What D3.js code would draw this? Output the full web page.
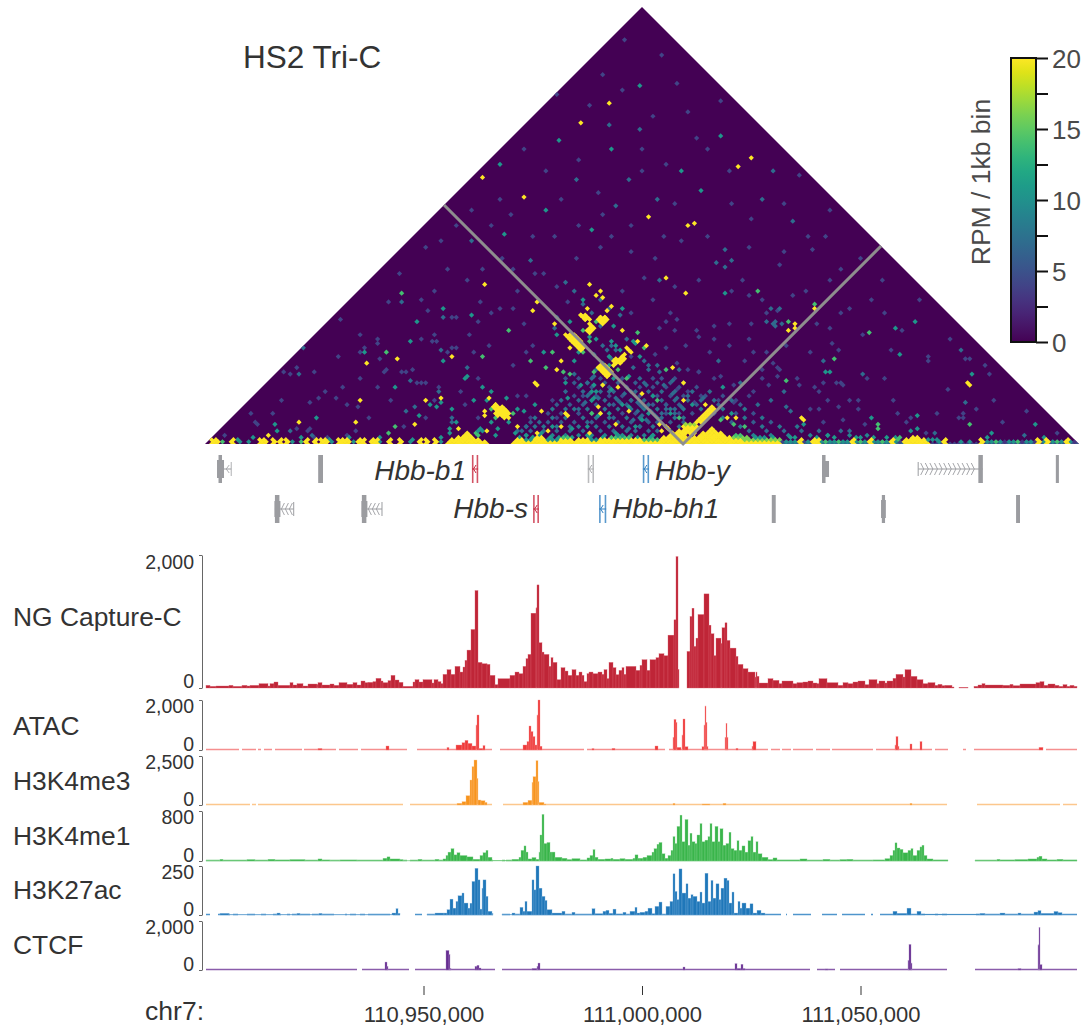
<!DOCTYPE html>
<html>
<head>
<meta charset="utf-8">
<script src="https://cdn.jsdelivr.net/npm/d3@7"></script>
<style>
  body { margin: 0; background: #fff; }
  text { font-family: "Liberation Sans", Arial, sans-serif; fill: #333; }
</style>
</head>
<body>
<div id="my_dataviz"></div>
<script>
// genomic window, chr7
const regionStart = 110900000;
const regionEnd = 111100000;
const axisTicks = [110950000, 111000000, 111050000];

// Tri-C contacts: [midpoint in 0.5kb steps, separation in kb]
const hotContacts = [179,68,181,70,182,67,176,73,175,62,184,61,186,63,172,59,174,57,176,55,181,58,182,57,181,56,183,58,175,52,177,54,176,51,
  167,48,169,46,171,44,168,47,170,47,173,44,172,43,187,36,189,38,191,40,188,37,193,44,195,42,194,43,198,47,202,45,180,35,182,33,184,31,181,34,183,32,183,34,185,32,
  151,28,152,27,133,18,135,16,137,14,139,12,134,15,136,15,137,16,138,15,136,13,165,14,166,13,128,73,152,65,150,61,160,55,165,50,167,44,190,52,220,69,211,76,
  113,40,161,34,163,38,214,35,219,28,189,26,182,27,200,23,101,20,108,21,96,9,130,21,128,15,128,13,129,6,116,7,143,8,154,15,152,5,162,8,157,6,
  180,17,181,14,188,9,194,15,176,5,208,9,229,18,239,12,243,12,219,20,270,55,267,52,88,39,74,37,71,20,43,10,69,10,29,4,279,62,270,53,349,28,350,27,272,12,273,11,
  184,156,172,147,249,131,243,127,127,122,145,113,202,104,220,100,223,101,210,8,212,7,209,6];
const greenContacts = [90,69,127,40,139,52,198,51,156,35,149,38,167,32,159,42,211,34,177,14,84,5,87,8,83,42,253,70,267,56,279,64,303,51,288,39,266,29,350,9,308,9,308,7,318,3,317,2,
  235,11,186,36,172,52,178,56,163,33,200,44,206,20,216,12,241,9,246,8,192,30,184,35,131,16,141,14,133,12,188,34,178,33,173,42,176,47];
const tealContacts = [155,42,177,27,238,69,109,62,122,59,97,56,94,47,73,42,109,38,120,31,119,30,87,26,127,26,131,24,103,18,108,19,106,17,123,20,113,16,98,13,51,12,32,9,33,6,115,10,112,7,112,5,133,4,
  325,56,316,53,317,41,351,32,284,33,286,33,274,9,305,12,326,13,323,6,326,7,360,5,380,9,
  160,50,171,42,175,49,186,47,189,43,196,46,164,28,172,27,178,24,186,25,193,31,205,22,212,14,222,18,240,14,176,20,166,21,190,18,236,26,151,18,145,15,199,11,
  199,164,162,139,134,128,186,135,217,125,227,116,236,141,176,98,137,96,156,107,
  177,24,177,21,181,27,187,30,185,36,184,40,188,45,199,11,196,8,202,14,184,14,174,8,193,17,179,13,167,7,158,8,153,5,147,4,141,5,133,7,138,10,
  129,20,137,21,131,10,143,16,187,54,172,66,166,56,190,62,178,48,195,47,199,40,168,38,
  150,3,162,3,175,4,188,5,204,4,15,2,22,3,44,3,56,2,66,3,80,3,94,2,108,3,268,3,284,4,300,3,316,3,358,3,384,3];
const blueContacts = [45,44,90,65,109,58,108,43,94,29,107,24,92,15,96,17,113,12,39,6,113,10,120,35,43,32,49,4,295,6,345,43,333,5,374,4,347,19,300,32,282,38,265,24,265,17,267,15,
  168,70,164,74,172,64,180,66,185,62,190,59,180,54,176,60,161,58,159,53,170,45,178,41,182,45,185,39,193,48,201,38,196,35,208,33,214,29,221,22,227,21,169,32,176,30,180,21,174,22,
  197,24,203,18,208,14,214,16,198,15,186,12,174,10,166,8,152,10,146,8,142,6,184,18,200,28,217,34,234,38,245,28,252,18,258,20,261,54,259,55,263,55,261,56,258,62,262,62,257,56,
  208,75,234,83,238,89,240,84,237,81,254,112,268,102,199,144,169,121,149,84,121,93,188,109,206,112,259,125,185,146,194,121,
  184,43,186,45,188,43,185,40,181,37,179,34,177,31,174,28,178,27,176,23,179,21,174,19,171,16,184,24,187,21,190,19,191,23,194,20,197,19,200,17,203,15,199,13,196,11,193,7,199,8,202,11,205,13,208,12,211,16,214,14,217,17,205,22,202,27,199,30,203,34,207,36,202,36,210,27,213,23,216,21];
const dimContacts = [62,57,84,65,113,58,115,58,125,56,101,61,134,62,105,50,99,48,104,47,106,47,78,48,78,46,72,44,71,42,111,42,113,44,115,44,123,42,80,39,82,34,81,33,90,33,92,33,95,34,42,35,36,33,39,32,50,33,
  98,28,101,28,97,28,71,30,79,26,63,26,107,26,105,20,60,21,52,21,48,19,65,18,70,17,22,10,23,9,21,14,41,7,48,7,47,6,68,6,91,8,9,4,50,3,65,4,56,3,
  286,53,314,43,347,39,349,39,331,38,357,36,359,32,303,30,290,43,286,46,288,28,290,28,292,27,282,28,278,26,272,27,352,16,346,14,347,12,345,12,295,20,299,20,285,20,314,20,276,16,281,16,290,17,299,16,283,10,292,11,301,9,317,14,320,10,323,12,365,10,389,5,
  221,152,172,176,208,178,192,185,181,169,236,157,259,144,272,123,286,107,298,105,135,112,121,107,108,93,126,80,98,66,162,112,181,105,217,93,249,103,277,89,291,80,304,66,318,52,341,48,327,66,254,66,
  205,66,213,60,224,52,232,48,240,45,247,38,255,30,262,35,270,30,277,42,280,24,243,20,233,30,226,33,215,25,211,18,150,45,145,55,140,62,143,70,130,60,120,75,110,80,100,90,135,85,150,95,170,85,180,90,195,88,210,95,
  225,75,245,75,262,82,275,70,295,62,310,75,330,40,290,60,268,68,250,55,239,55,220,45,214,52,206,41,195,60,190,70,200,76,160,72,155,78,140,36,146,42,120,50,117,24,124,30,147,22,158,20,170,14,160,12,
  220,24,223,19,226,22,234,20,242,19,248,22,251,24,257,27,261,31,242,27,235,31,226,33,216,37,220,34,232,54,226,49,216,57,210,56,207,53,257,42,254,34,263,34,260,37,248,48,249,68,257,60,262,61,
  160,160,175,155,190,162,205,150,215,165,230,135,170,130,155,125,145,135,200,125,180,115,215,110,240,110,265,110,230,95,160,95,115,100,130,100,195,100,248,90,283,95,300,85,240,70,285,75,
  195,40,210,44,230,42,250,42,265,45,280,55,300,50,310,60,130,45,125,65,140,80,105,70,88,78,70,50,60,40,148,12,142,22,125,12,118,18,100,12,85,20,75,12,55,24,35,20,30,14,340,25,335,14,360,20,375,15,330,5,310,30,
  170,175,200,135,225,140,210,128,240,125,185,95,170,100,205,85,265,88,275,95,140,105,150,78,165,65,215,72];

// blue cloud under the viewpoint, by row: [separation, value, midpoints...]
const cloudRows = [
  [30,5,165,171,181,191,205,209,215],
  [28,6,168,175,183,189,197,207,213,219],
  [26,5,170,177,185,193,199,205,211,217,225],
  [24,7,165,173,181,187,195,203,209,215,222,230],
  [22,5,168,172,178,184,190,198,206,212,218,228,236],
  [20,7,163,170,176,182,188,194,200,208,214,220,226,232,240],
  [18,6,160,166,172,178,186,192,198,204,210,216,224,234,244],
  [16,8,158,164,168,174,182,188,194,200,206,212,218,226,236,246],
  [14,5,156,162,170,176,180,190,196,204,210,216,222,232,242,250],
  [12,8,150,158,164,172,178,184,192,198,206,214,218,236,246,254],
  [10,6,148,156,162,168,176,182,188,194,202,206,212,218,240,250,258],
  [8,8,146,150,154,160,170,178,184,190,198,204,216,244,254,262,270],
  [6,7,145,149,155,161,167,173,181,187,193,197,203,207,213,248,256,264,272,280,290],
  [4,9,147,153,159,165,171,177,183,189,195,201,205,250,258,266,276,284,294,302],
  [3,11,143,149,157,167,175,181,197,203,252,260,270,280,288,298,306,312]
];

// solid runs, yellow blobs and the rows next to the diagonal: [separation, first midpoint, last midpoint, value]
const bandRuns = [[0,111,129,20],[1,112,128,20],[2,113,125,20],[3,115,123,20],[4,118,122,20],[4,124,126,14],[5,119,121,20],[5,123,125,14],[6,125,127,10],[7,117,117,10],[7,125,127,10],
  [0,141,263,20],[1,142,262,20],[2,143,145,20],[2,151,155,20],[2,163,167,20],[2,171,175,20],[2,181,199,20],[2,147,149,10],[2,157,161,10],[2,177,179,10],[2,201,207,14],[3,152,154,20],[3,164,166,14],[3,186,194,14],[4,188,192,10],
  [2,209,245,20],[3,210,222,20],[3,224,240,20],[4,212,220,20],[4,226,238,20],[5,214,224,20],[5,228,236,20],[6,216,224,20],[6,230,234,20],[7,219,224,20],[7,232,232,20],[8,219,225,20],[9,220,225,17],
  [2,247,263,16],[3,242,248,16],[4,242,246,14],[3,252,256,10],
  [0,265,319,7],[1,264,318,4],[0,321,331,20],[1,320,330,20],[2,321,329,20],[3,324,326,20],[2,331,335,10],[0,333,353,4],[0,355,400,5],[1,356,398,3],
  [18,133,133,20],[17,132,136,20],[16,132,138,20],[15,133,139,20],[14,133,139,20],[13,134,138,20],[12,136,138,20],
  [36,180,183,20],[35,180,184,20],[34,181,185,20],[33,181,186,20],[32,182,186,20],[31,183,185,20],
  [50,166,169,20],[49,166,170,20],[48,167,171,20],[47,167,172,20],[46,168,172,20],[45,170,173,20],[44,171,173,20],
  [41,191,193,20],[40,190,192,20],[39,188,192,20],[38,187,191,20],[37,187,190,20],
  [59,172,175,20],[58,173,176,20],[57,174,176,20],[58,180,183,20],[57,180,184,20],[56,180,184,20],[55,181,183,20],[53,175,178,20],[52,175,178,20],[51,175,177,20],
  [10,224,227,20],[11,225,228,20],[12,226,229,20],[13,227,230,20],[14,228,231,20],[15,229,232,20],[16,230,233,20],[17,231,233,20]];
const baseHot = [3,5,12,25,27,31,34,37,46,50,53,55,61,63,65,70,72,76,78,84,89,98,101,105,272,278,280,296,304,314,338,355,381,385,394];
const baseGreen = [8,43,284,290,300,310,362,372,390];
const baseTeal = [15,20,40,58,68,80,94,108,266,268,270,275,282,286,288,292,294,298,302,306,308,312,316,335,345,350,358,360,364,368,370,376,378,383,388,392,396];

// the two gray guide lines start from the viewpoint, in kb from region start
const viewpointKb = 109.4;

// colorbar
const colorTicks = [0, 2.5, 5, 7.5, 10, 12.5, 15, 17.5, 20];

// gene track, kb from region start
const geneRow = [0,0,0,0,0,0,0,0, 1,1,1,1,1,1,1];
const geneStart = [2.75,25.9,61.1,87.6,100.2,141.2,163.2,194.7, 16,35.9,75.1,90.2,129.7,154.7,185.6];
const geneEnd = [6,27,62.5,89,101.6,142.8,178,195.4, 20.3,40.5,76.4,91.8,130.6,155.8,186.5];
const geneColor = ["#9b9ca0","#9b9ca0","#c8283f","#a9aaad","#2f7fc1","#9b9ca0","#9b9ca0","#9b9ca0","#9b9ca0","#9b9ca0","#c8283f","#2f7fc1","#9b9ca0","#9b9ca0","#9b9ca0"];
const geneType = ["left","bar","pair","pair","pair","step","long","bar","chev","chev","pair","pair","bar","mid","bar"];

// signal tracks: [bin, value from that bin on], 1 bin = 229bp
const captureBins = [1,5,11,24,28,37,42,45,54,63,65,69,73,85,88,92,98,103,112,113,117,125,129,134,142,148,152,156,160,163,168,171,176,178,183,186,190,194,198,208,210,214,218,227,229,233,236,238,242,246,250,255,258,260,262,266,270,273,277,282,285,290,293,305,310,314,318,321,323,326,331,332,334,337,339,344,346,348,352,356,360,363,367,371,374,377,379,382,384,388,393,397,399,402,404,408,411,414,417,419,421,431,435,437,442,445,451,454,459,463,469,471,473,474,482,485,487,489,491,493,499,504,506,509,511,516,517,520,522,525,531,533,538,543,550,551,552,554,563,568,574,577,588,592,598,603,608,612,614,622,633,638,643,648,653,660,664,672,674,680,682,688,691,698,700,706,712,718,723,730,733,737,740,747,749,754,763,769,773,777,780,798,805,808,815,831,835,839,843,850,854,858,862,865,869,872];
const captureValues = [40,25,30,40,25,40,30,40,65,30,65,90,40,80,45,65,30,60,50,80,45,60,40,80,55,80,45,105,80,85,95,145,105,80,110,190,120,85,25,90,125,90,125,75,125,95,65,205,275,205,325,240,315,415,570,880,1465,385,365,355,190,50,140,190,240,215,325,440,505,1125,1205,1550,680,540,505,325,455,385,125,305,255,190,275,190,240,190,95,215,240,215,240,205,275,140,385,305,200,265,305,205,325,265,340,425,265,425,455,515,485,795,1025,1975,275,0,550,1075,1200,625,750,1105,1415,945,815,485,750,665,905,980,715,600,475,355,290,240,165,240,175,75,140,115,65,105,65,80,90,105,75,65,140,80,40,80,65,90,105,50,125,65,105,75,105,145,205,165,275,175,125,65,80,40,55,35,40,15,0,10,0,25,45,65,45,40,55,35,60,80,95,40,60,40,25,50,25,40,25,0];
const atacSteps = [[113,60],[117,0],[181,160],[184,0],[242,100],[244,0],[251,200],[257,290],[260,385],[263,265],[267,160],[271,1000],[272,1400],[274,60],[278,175],[280,0],[318,200],[322,335],[324,960],[326,735],[328,535],[330,200],[332,1400],[333,2000],[335,150],[337,0],[387,55],[389,0],[407,65],[410,0],
  [450,160],[453,0],[468,500],[469,1220],[471,1100],[472,105],[476,0],[477,600],[478,1240],[480,130],[483,0],[497,130],[499,1000],[500,1760],[501,1100],[502,130],[503,0],[520,500],[521,1065],[522,500],[523,0],[531,65],[533,0],[547,150],[548,335],[551,0],[690,200],[691,535],[693,150],[694,0],[705,240],[707,0],[715,335],[717,0],[834,105],[838,0]];
const me3Steps = [[252,85],[257,170],[261,475],[265,1275],[267,1955],[269,2295],[272,1360],[273,255],[276,220],[280,135],[282,0],[318,135],[323,240],[327,1155],[328,1445],[331,2260],[333,1190],[334,135],[339,50],[341,0],[468,85],[470,0],[497,50],[505,0],[518,85],[521,0],[705,85],[707,0]];
const me1Steps = [[1,5],[15,27],[18,11],[42,22],[50,11],[63,27],[70,16],[85,22],[100,11],[113,33],[117,16],[125,5],[135,16],[152,11],[178,44],[182,66],[185,33],[195,22],[198,5],[205,11],[213,27],[217,11],[230,27],[234,11],[238,33],[241,88],[243,142],[246,197],[249,98],[252,132],[255,88],[262,66],[268,27],[275,88],[278,132],[281,170],[283,60],[287,11],
  [297,11],[307,27],[314,60],[316,170],[319,241],[321,143],[323,33],[327,55],[331,27],[334,143],[335,416],[337,745],[339,279],[342,296],[345,143],[347,143],[350,60],[357,44],[362,22],[367,38],[375,16],[382,49],[385,88],[388,181],[390,60],[393,27],[400,33],[406,44],[408,27],[415,38],[420,27],[428,44],[430,98],[433,44],
  [435,44],[438,60],[442,88],[447,142],[449,197],[452,268],[454,296],[457,115],[460,44],[463,88],[466,170],[468,389],[470,279],[472,553],[475,734],[477,307],[480,663],[483,252],[485,444],[487,307],[490,279],[492,416],[495,597],[497,307],[500,334],[503,389],[505,597],[507,307],[510,553],[513,307],[515,515],[518,252],[521,279],[524,460],[526,197],[529,170],[532,323],[534,170],[537,241],[540,142],[543,323],[546,389],[548,142],[551,307],[553,115],[557,60],[563,22],[568,49],[572,16],[595,33],[602,11],[618,27],[625,11],[635,22],[642,27],[648,11],[668,16],[680,38],[685,88],[688,170],[690,290],[692,208],[695,186],[698,131],[703,170],[706,197],[708,88],[712,170],[715,225],[717,252],[719,88],[722,33],[728,16],[743,0],
  [770,11],[792,27],[795,16],[810,22],[823,33],[832,60],[834,77],[837,33],[842,16],[852,27],[858,16],[872,0]];
const k27Steps = [[15,8],[24,3],[72,10],[75,3],[92,8],[95,3],[114,8],[117,3],[187,10],[191,32],[193,8],[195,0],[222,3],[230,10],[239,10],[242,27],[245,81],[248,35],[251,69],[253,98],[257,112],[259,61],[263,35],[265,60],[267,171],[270,238],[273,179],[275,30],[277,137],[278,179],[281,95],[283,19],[287,7],[288,0],[297,3],[307,10],[310,3],[315,39],[318,19],[320,69],[322,19],[327,179],[329,128],[331,250],[334,137],[337,95],[340,74],[342,27],[347,10],[357,19],[360,3],[367,14],[370,3],[387,32],[390,6],[398,19],[401,24],[404,8],[408,30],[411,5],[418,14],[421,3],[425,19],[430,39],[432,10],
  [435,14],[440,19],[443,35],[447,6],[450,44],[454,66],[457,3],[461,44],[465,69],[468,210],[470,120],[472,78],[474,235],[477,112],[481,159],[483,86],[486,103],[488,95],[492,69],[495,117],[497,61],[500,213],[503,69],[506,176],[508,86],[511,159],[514,78],[516,137],[519,188],[522,176],[524,61],[527,117],[529,10],[533,69],[535,35],[537,61],[541,35],[545,57],[548,10],[552,24],[556,10],[560,0],
  [688,19],[692,8],[702,35],[706,0],[712,19],[716,5],[775,8],[780,4],[795,10],[800,4],[813,10],[816,4],[829,15],[833,22],[836,8],[849,18],[853,12],[857,5]];
const ctcfSteps = [[180,324],[182,148],[183,0],[241,796],[244,620],[245,67],[246,0],[270,148],[272,189],[274,81],[276,0],[327,60],[332,148],[333,283],[335,0],[478,121],[480,0],[530,256],[532,60],[536,230],[538,54],[540,0],[620,40],[623,0],[703,378],[704,1040],[706,283],[707,0],[813,54],[816,0],[833,1026],[834,1728],[835,216],[837,0]];

// stretches with coverage (bins)
const atacSpans = [[1,34],[37,51],[53,56],[59,67],[70,97],[99,131],[134,153],[156,202],[212,287],[295,379],[382,460],[464,563],[566,575],[577,586],[588,608],[611,625],[627,668],[671,727],[730,743],[758,761],[769,838],[841,872]];
const me3Spans = [[1,45],[47,51],[53,198],[205,287],[298,742],[772,855],[858,872]];
const me1Spans = [[1,202],[205,288],[297,300],[301,743],[770,872]];
const k27Spans = [[1,5],[13,25],[28,33],[42,50],[56,61],[68,76],[82,85],[87,105],[107,129],[140,142],[145,151],[155,160],[163,185],[188,195],[210,217],[222,288],[297,305],[307,563],[563,576],[581,582],[588,606],[617,632],[637,660],[666,668],[675,720],[730,733],[737,742],[771,872]];
const ctcfSpans = [[1,152],[157,204],[210,290],[297,605],[612,630],[635,742],[770,872]];
const captureSpans = [];

const tracks = [
  { name: "NG Capture-C", steps: captureBins.map((b, i) => [b, captureValues[i]]), spans: captureSpans, max: 2000, top: 555, base: 688, color: "#bf2537", edge: "#d9606e", line: "#e9a7ae", labelY: 618, tickIn: 7 },
  { name: "ATAC", steps: atacSteps, spans: atacSpans, max: 2000, top: 700, base: 750, color: "#ee3a3a", edge: "#f58f8f", line: "#f58f8f", labelY: 727, tickIn: 6 },
  { name: "H3K4me3", steps: me3Steps, spans: me3Spans, max: 2500, top: 756, base: 805, color: "#f7941d", edge: "#fcc78d", line: "#fcc78d", labelY: 782, tickIn: 6 },
  { name: "H3K4me1", steps: me1Steps, spans: me1Spans, max: 800, top: 811, base: 861, color: "#39b54a", edge: "#8ad495", line: "#6cc77a", labelY: 837, tickIn: 6 },
  { name: "H3K27ac", steps: k27Steps, spans: k27Spans, max: 250, top: 866, base: 915, color: "#1f77b9", edge: "#7fb2da", line: "#4f95cc", labelY: 891, tickIn: 6 },
  { name: "CTCF", steps: ctcfSteps, spans: ctcfSpans, max: 2000, top: 921, base: 970, color: "#662d91", edge: "#a585c0", line: "#8a5cab", labelY: 946, tickIn: 6 }
];

const svg = d3.select("#my_dataviz")
  .append("svg")
  .attr("width", 1084)
  .attr("height", 1028);

const x = d3.scaleLinear().domain([regionStart, regionEnd]).range([205, 1079]);
const xKb = kb => x(regionStart + kb * 1000);
const xBin = b => x(regionStart + b * (regionEnd - regionStart) / 874);
const ySep = d3.scaleLinear().domain([0, 200]).range([444, 7]);
const color = d3.scaleSequential(d3.interpolateViridis).domain([0, 20]);

// HEATMAP
const triangle = [[xKb(0), ySep(0)], [xKb(100), ySep(200)], [xKb(200), ySep(0)]];
svg.append("clipPath").attr("id", "tri").append("polygon").attr("points", triangle.join(" "));
svg.append("polygon").attr("points", triangle.join(" ")).attr("fill", color(0));

// bins sit on a lattice, midpoint + separation is always odd
const cells = [];
function addCell(mid, sep, value) {
  if ((mid + sep) % 2 === 0) mid += 1;
  cells.push({ mid, sep, value });
}
function addPairs(flat, value) {
  for (let i = 0; i < flat.length; i += 2) addCell(flat[i], flat[i + 1], value);
}
function addRun(r) {
  const first = (r[1] + r[0]) % 2 === 0 ? r[1] + 1 : r[1];
  for (let m = first; m <= r[2]; m += 2) addCell(m, r[0], r[3]);
}
addPairs(dimContacts, 4);
cloudRows.forEach(r => r.slice(2).forEach(m => addCell(m, r[0], r[1])));
addPairs(blueContacts, 7);
bandRuns.filter(r => r[3] < 10).forEach(addRun);
addPairs(tealContacts, 10.5);
addPairs(greenContacts, 14);
bandRuns.filter(r => r[3] >= 10).forEach(addRun);
addPairs(hotContacts, 20);
baseTeal.forEach(m => addCell(m, 1, 10));
baseGreen.forEach(m => addCell(m, 1, 14));
baseHot.forEach(m => { addCell(m, 1, 20); addCell(m, 0, 20); addCell(m, 2, 20); });

const xMid = m => xKb(m / 2);
const cellR = 1.2; // lattice steps, marks bleed a little in the picture
svg.append("g").attr("clip-path", "url(#tri)")
  .selectAll("path")
  .data(cells)
  .enter()
  .append("path")
  .attr("d", d => `M${xMid(d.mid - cellR)},${ySep(d.sep)}L${xMid(d.mid)},${ySep(d.sep + cellR)}L${xMid(d.mid + cellR)},${ySep(d.sep)}L${xMid(d.mid)},${ySep(d.sep - cellR)}Z`)
  .attr("fill", d => color(d.value));

// gray guides along the viewpoint
svg.append("path")
  .attr("d", d3.line()([[xKb(viewpointKb / 2), ySep(viewpointKb)], [xKb(viewpointKb), ySep(0)], [xKb((viewpointKb + 200) / 2), ySep(200 - viewpointKb)]]))
  .attr("fill", "none")
  .attr("stroke", "#8e8e8e")
  .attr("stroke-width", 3);

svg.append("text").attr("x", 243).attr("y", 68).style("font-size", "31.5px").text("HS2 Tri-C");

// COLORBAR
const legendY = d3.scaleLinear().domain([0, 20]).range([342, 58]);
const grad = svg.append("defs").append("linearGradient").attr("id", "viridisBar")
  .attr("x1", 0).attr("x2", 0).attr("y1", 1).attr("y2", 0);
d3.range(0, 1.01, 0.05).forEach(t => grad.append("stop").attr("offset", t).attr("stop-color", d3.interpolateViridis(t)));
svg.append("rect").attr("x", 1011).attr("y", 58).attr("width", 25).attr("height", 284)
  .attr("fill", "url(#viridisBar)").attr("stroke", "#111").attr("stroke-width", 2);
const legendAxis = svg.append("g").attr("transform", "translate(1036,0)")
  .call(d3.axisRight(legendY).tickValues(colorTicks).tickSize(12).tickPadding(4).tickFormat(d => d % 5 === 0 ? d : ""));
legendAxis.select(".domain").remove();
legendAxis.selectAll("line").attr("stroke", "#111").attr("stroke-width", 2);
legendAxis.selectAll("text").style("font-size", "26px").style("fill", "#4a4a4a").attr("dy", "0.36em");
svg.append("text")
  .attr("transform", "translate(990,182) rotate(-90)")
  .attr("text-anchor", "middle")
  .style("font-size", "26.5px")
  .style("fill", "#4a4a4a")
  .text("RPM / 1kb bin");

// GENES
const rowTop = [455, 495];
const rowH = 28;
const genes = svg.append("g");
geneStart.forEach((s, i) => {
  const y0 = rowTop[geneRow[i]], y1 = y0 + rowH, ym = y0 + rowH / 2;
  const x0 = xKb(s), x1 = xKb(geneEnd[i]), c = geneColor[i], t = geneType[i];
  const g = genes.append("g").attr("stroke", c).attr("fill", c);
  if (t === "bar") {
    g.append("rect").attr("x", x0).attr("y", y0).attr("width", x1 - x0).attr("height", rowH).attr("stroke", "none");
  } else if (t === "mid") {
    g.append("rect").attr("x", x0 + 0.8).attr("y", y0).attr("width", x1 - x0 - 1.6).attr("height", rowH).attr("stroke", "none");
    g.append("rect").attr("x", x0).attr("y", y0 + 5).attr("width", x1 - x0).attr("height", rowH - 10).attr("stroke", "none");
  } else if (t === "pair") {
    g.append("line").attr("x1", x0 + 0.7).attr("x2", x0 + 0.7).attr("y1", y0).attr("y2", y1).attr("stroke-width", 1.6).attr("stroke-opacity", 0.8);
    g.append("line").attr("x1", x1 - 0.7).attr("x2", x1 - 0.7).attr("y1", y0).attr("y2", y1).attr("stroke-width", 1.6).attr("stroke-opacity", 0.8);
    g.append("line").attr("x1", x0).attr("x2", x1).attr("y1", ym).attr("y2", ym).attr("stroke-width", 1);
    g.append("path").attr("fill", "none").attr("d", `M${x0 + 4},${ym - 4}L${x0 + 1.5},${ym}L${x0 + 4},${ym + 4}`);
  } else if (t === "step") {
    g.append("rect").attr("x", x0).attr("y", y0).attr("width", 3.5).attr("height", rowH).attr("stroke", "none");
    g.append("rect").attr("x", x0).attr("y", y0 + 6).attr("width", x1 - x0).attr("height", rowH - 12).attr("stroke", "none");
  } else if (t === "left") {
    g.append("rect").attr("x", x0).attr("y", y0 + 5).attr("width", 7).attr("height", rowH - 10).attr("stroke", "none");
    g.append("rect").attr("x", x0 + 1.5).attr("y", y0).attr("width", 3.5).attr("height", rowH).attr("stroke", "none");
    g.append("line").attr("x1", x0).attr("x2", x1).attr("y1", ym).attr("y2", ym);
    g.append("line").attr("x1", x1).attr("x2", x1).attr("y1", ym - 7).attr("y2", ym + 7).attr("stroke-width", 0.8);
    g.append("path").attr("fill", "none").attr("stroke-width", 0.8).attr("d", `M${x1 - 2},${ym - 4}L${x1 - 5},${ym}L${x1 - 2},${ym + 4}`);
  } else if (t === "chev") {
    g.append("rect").attr("x", x0).attr("y", y0).attr("width", 4.5).attr("height", rowH).attr("stroke", "none");
    g.append("rect").attr("x", x0 - 0.5).attr("y", y0 + 6).attr("width", 6).attr("height", rowH - 12).attr("stroke", "none");
    g.append("line").attr("x1", x0).attr("x2", x1).attr("y1", ym).attr("y2", ym).attr("stroke-width", 1);
    g.append("line").attr("x1", x1).attr("x2", x1).attr("y1", ym - 7).attr("y2", ym + 7).attr("stroke-width", 1);
    d3.range(x0 + 8, x1 - 1, 4).forEach(px => g.append("path").attr("fill", "none").attr("stroke-width", 0.9)
      .attr("d", `M${px + 1.5},${ym - 6}L${px - 1.5},${ym}L${px + 1.5},${ym + 6}`));
  } else if (t === "long") {
    g.append("rect").attr("x", x1 - 4.5).attr("y", y0).attr("width", 4.5).attr("height", rowH).attr("stroke", "none");
    g.append("line").attr("x1", x0).attr("x2", x1).attr("y1", ym).attr("y2", ym).attr("stroke-width", 1);
    g.append("line").attr("x1", x0).attr("x2", x0).attr("y1", ym - 7).attr("y2", ym + 7).attr("stroke-width", 1);
    d3.range(x0 + 4, x1 - 6, 4.6).forEach(px => g.append("path").attr("fill", "none").attr("stroke-width", 0.9)
      .attr("d", `M${px - 1.5},${ym - 6}L${px + 1.5},${ym}L${px - 1.5},${ym + 6}`));
  }
});
const geneLabels = [["Hbb-b1", 466, 480, "end"], ["Hbb-s", 528, 518, "end"], ["Hbb-y", 655, 480, "start"], ["Hbb-bh1", 612, 518, "start"]];
svg.selectAll(".gene-label")
  .data(geneLabels)
  .enter()
  .append("text")
  .attr("class", "gene-label")
  .attr("x", d => d[1])
  .attr("y", d => d[2])
  .attr("text-anchor", d => d[3])
  .style("font-size", "28px")
  .style("font-style", "italic")
  .text(d => d[0]);

// TRACKS
tracks.forEach(t => {
  const y = d3.scaleLinear().domain([0, t.max]).range([t.base, t.top]);
  const g = svg.append("g");

  g.selectAll("line.cov")
    .data(t.spans)
    .enter()
    .append("line")
    .attr("class", "cov")
    .attr("x1", d => xBin(d[0]))
    .attr("x2", d => xBin(d[1]))
    .attr("y1", t.base - 0.5)
    .attr("y2", t.base - 0.5)
    .attr("stroke", t.line)
    .attr("stroke-width", 1.5);

  const steps = t.steps.map((s, i) => ({ b: s[0], v: s[1], next: t.steps[i + 1] ? t.steps[i + 1][0] : undefined }))
    .filter(d => d.next !== undefined && d.v > 0);
  g.selectAll("rect")
    .data(steps)
    .enter()
    .append("rect")
    .attr("x", d => xBin(d.b))
    .attr("y", d => y(d.v))
    .attr("width", d => xBin(d.next) - xBin(d.b))
    .attr("height", d => t.base - y(d.v))
    .attr("fill", t.color)
    .attr("stroke", t.edge)
    .attr("stroke-width", 0.35);

  const axis = svg.append("g").attr("transform", "translate(202,0)")
    .call(d3.axisLeft(y).tickValues([0, t.max]).tickSize(3).tickSizeOuter(0).tickPadding(5).tickFormat(d3.format(",")));
  axis.selectAll("line, path").attr("stroke", "#666");
  axis.selectAll("text")
    .style("font-size", "19.5px")
    .attr("dy", d => d === 0 ? (0.32 * 19.5 - t.tickIn) + "px" : (0.32 * 19.5 + t.tickIn) + "px");

  svg.append("text")
    .attr("x", 13)
    .attr("y", t.labelY + 8)
    .style("font-size", "26.4px")
    .text(t.name);
});

// BOTTOM AXIS
const xAxis = svg.append("g").attr("transform", "translate(0,986)")
  .call(d3.axisBottom(x).tickValues(axisTicks).tickSize(9).tickPadding(11).tickFormat(d3.format(",")));
xAxis.select(".domain").remove();
xAxis.selectAll("line").attr("stroke", "#333");
xAxis.selectAll("text").style("font-size", "22px");
svg.append("text").attr("x", 204).attr("y", 1020).attr("text-anchor", "end").style("font-size", "26.5px").text("chr7:");
</script>
</body>
</html>
